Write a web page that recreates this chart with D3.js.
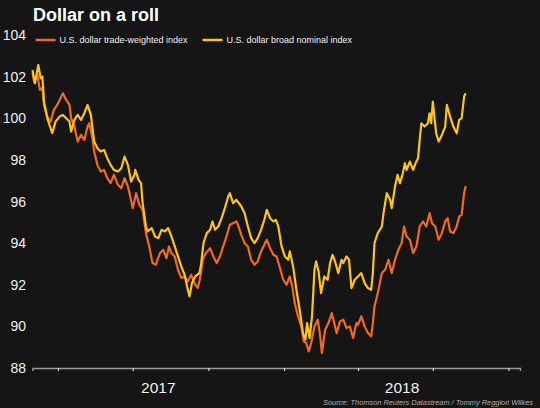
<!DOCTYPE html>
<html>
<head>
<meta charset="utf-8">
<script src="https://cdn.jsdelivr.net/npm/d3@7"></script>
<style>
  html, body { margin: 0; padding: 0; background: #151515; }
  svg { display: block; }
</style>
</head>
<body>
<div id="chart"></div>
<script>
// data
var seriesNames = ["U.S. dollar trade-weighted index", "U.S. dollar broad nominal index"];
var seriesColors = ["#f26a1b", "#fcc419"];
var yTicks = [88, 90, 92, 94, 96, 98, 100, 102, 104];
var yearLabels = ["2017", "2018"];
var sourceText = "Source: Thomson Reuters Datastream / Tommy Reggiori Wilkes";

var tradeWeighted = [
	["2017-03-01",102.18],["2017-03-03",101.76],["2017-03-07",102.08],["2017-03-10",101.36],["2017-03-13",101.46],
	["2017-03-15",100.64],["2017-03-19",100.08],["2017-03-23",99.84],["2017-03-27",100.40],["2017-03-31",100.64],
	["2017-04-04",100.96],["2017-04-07",101.20],["2017-04-11",100.88],["2017-04-15",100.64],["2017-04-17",100.00],
	["2017-04-21",99.60],["2017-04-25",98.88],["2017-04-29",99.20],["2017-05-03",98.96],["2017-05-07",99.60],
	["2017-05-09",99.76],["2017-05-13",99.04],["2017-05-15",98.40],["2017-05-19",97.76],["2017-05-23",97.44],
	["2017-05-27",97.52],["2017-05-31",97.12],["2017-06-04",96.88],["2017-06-08",97.28],["2017-06-13",96.80],
	["2017-06-17",96.64],["2017-06-21",97.12],["2017-06-25",96.72],["2017-06-27",96.40],["2017-07-01",95.68],
	["2017-07-05",96.40],["2017-07-09",95.84],["2017-07-13",95.60],["2017-07-17",94.48],["2017-07-21",93.84],
	["2017-07-25",93.04],["2017-07-29",92.96],["2017-08-03",93.52],["2017-08-07",93.68],["2017-08-11",93.28],
	["2017-08-14",93.84],["2017-08-17",93.52],["2017-08-21",93.36],["2017-08-25",92.72],["2017-08-29",92.32],
	["2017-09-02",92.40],["2017-09-06",92.16],["2017-09-10",92.48],["2017-09-14",92.08],["2017-09-18",91.84],
	["2017-09-21",92.32],["2017-09-24",93.20],["2017-09-28",93.52],["2017-10-03",93.76],["2017-10-07",93.36],
	["2017-10-11",93.04],["2017-10-15",93.36],["2017-10-19",93.84],["2017-10-23",94.32],["2017-10-27",94.88],
	["2017-10-31",94.96],["2017-11-04",95.04],["2017-11-06",94.88],["2017-11-10",94.40],["2017-11-14",94.00],
	["2017-11-18",93.84],["2017-11-22",93.20],["2017-11-26",92.96],["2017-11-30",93.12],["2017-12-04",93.60],
	["2017-12-08",93.92],["2017-12-11",94.16],["2017-12-15",93.76],["2017-12-19",93.44],["2017-12-23",93.36],
	["2017-12-27",92.80],["2017-12-31",92.24],["2018-01-04",92.00],["2018-01-08",92.40],["2018-01-11",91.92],
	["2018-01-14",91.12],["2018-01-18",90.48],["2018-01-22",90.00],["2018-01-25",89.28],["2018-01-28",89.20],
	["2018-01-31",88.80],["2018-02-03",89.20],["2018-02-07",90.00],["2018-02-11",90.32],["2018-02-14",89.52],
	["2018-02-16",88.72],["2018-02-20",89.84],["2018-02-24",90.16],["2018-02-28",90.64],["2018-03-03",90.16],
	["2018-03-06",89.68],["2018-03-10",90.24],["2018-03-14",90.32],["2018-03-18",89.92],["2018-03-22",90.00],
	["2018-03-26",89.44],["2018-03-30",90.16],["2018-04-01",90.08],["2018-04-05",90.48],["2018-04-09",90.00],
	["2018-04-13",89.68],["2018-04-17",89.52],["2018-04-19",90.16],["2018-04-21",90.96],["2018-04-25",91.60],
	["2018-04-30",92.56],["2018-05-04",92.72],["2018-05-08",93.20],["2018-05-12",92.56],["2018-05-16",93.20],
	["2018-05-20",93.68],["2018-05-24",94.00],["2018-05-27",94.80],["2018-05-30",94.32],["2018-06-03",94.16],
	["2018-06-07",93.52],["2018-06-11",93.84],["2018-06-15",94.80],["2018-06-19",95.04],["2018-06-23",94.80],
	["2018-06-27",95.44],["2018-06-30",94.96],["2018-07-04",94.80],["2018-07-08",94.16],["2018-07-12",94.48],
	["2018-07-16",95.04],["2018-07-19",95.20],["2018-07-22",94.56],["2018-07-26",94.48],["2018-07-30",94.80],
	["2018-08-02",95.28],["2018-08-05",95.36],["2018-08-08",96.40],["2018-08-10",96.75]
];

var broadNominal = [
	["2017-03-01",102.32],["2017-03-04",101.68],["2017-03-08",102.56],["2017-03-11",101.92],["2017-03-13",102.00],
	["2017-03-15",100.80],["2017-03-17",100.40],["2017-03-19",100.00],["2017-03-21",99.76],["2017-03-25",99.28],
	["2017-03-29",99.84],["2017-04-03",100.08],["2017-04-07",100.16],["2017-04-11",100.00],["2017-04-15",99.84],
	["2017-04-17",99.36],["2017-04-21",99.92],["2017-04-25",100.16],["2017-04-29",99.92],["2017-05-03",100.24],
	["2017-05-07",100.64],["2017-05-11",100.16],["2017-05-15",98.88],["2017-05-19",98.56],["2017-05-23",98.40],
	["2017-05-27",98.48],["2017-05-31",98.08],["2017-06-04",97.76],["2017-06-08",97.52],["2017-06-13",97.44],
	["2017-06-17",97.60],["2017-06-21",98.16],["2017-06-25",97.76],["2017-06-29",96.96],["2017-07-03",97.28],
	["2017-07-04",97.52],["2017-07-08",97.04],["2017-07-11",96.88],["2017-07-13",95.92],["2017-07-17",94.80],
	["2017-07-19",94.56],["2017-07-24",94.72],["2017-07-28",94.32],["2017-08-01",94.24],["2017-08-05",94.64],
	["2017-08-09",94.56],["2017-08-13",94.72],["2017-08-17",94.32],["2017-08-21",93.84],["2017-08-25",93.36],
	["2017-08-29",92.88],["2017-09-02",92.48],["2017-09-05",91.92],["2017-09-08",91.44],["2017-09-11",92.08],
	["2017-09-15",92.40],["2017-09-20",92.56],["2017-09-22",92.96],["2017-09-25",94.00],["2017-09-29",94.48],
	["2017-10-03",94.64],["2017-10-06",95.04],["2017-10-09",94.64],["2017-10-13",94.80],["2017-10-17",95.20],
	["2017-10-21",95.68],["2017-10-25",96.24],["2017-10-27",96.40],["2017-10-31",95.92],["2017-11-04",96.08],
	["2017-11-10",95.76],["2017-11-14",95.44],["2017-11-18",94.80],["2017-11-22",94.24],["2017-11-26",94.00],
	["2017-11-30",94.24],["2017-12-04",94.64],["2017-12-08",95.12],["2017-12-11",95.60],["2017-12-15",95.20],
	["2017-12-19",95.04],["2017-12-22",95.12],["2017-12-25",94.80],["2017-12-29",93.84],["2018-01-02",93.36],
	["2018-01-06",93.20],["2018-01-08",93.60],["2018-01-12",92.88],["2018-01-16",91.76],["2018-01-20",90.80],
	["2018-01-24",89.68],["2018-01-27",89.36],["2018-01-29",90.16],["2018-02-01",89.44],["2018-02-04",90.48],
	["2018-02-07",92.72],["2018-02-09",93.12],["2018-02-12",92.64],["2018-02-15",91.60],["2018-02-19",92.40],
	["2018-02-23",92.24],["2018-02-26",93.04],["2018-03-01",93.44],["2018-03-04",93.12],["2018-03-08",92.56],
	["2018-03-12",93.20],["2018-03-14",93.04],["2018-03-18",93.36],["2018-03-21",93.20],["2018-03-24",91.84],
	["2018-03-28",92.24],["2018-04-01",92.40],["2018-04-05",92.56],["2018-04-09",92.08],["2018-04-13",91.84],
	["2018-04-17",91.76],["2018-04-19",92.56],["2018-04-21",94.00],["2018-04-25",94.48],["2018-04-30",94.80],
	["2018-05-02",95.44],["2018-05-06",96.40],["2018-05-10",96.08],["2018-05-12",95.68],["2018-05-16",96.72],
	["2018-05-19",97.28],["2018-05-22",96.88],["2018-05-25",97.28],["2018-05-28",97.84],["2018-05-30",97.52],
	["2018-06-03",97.92],["2018-06-07",97.52],["2018-06-10",97.84],["2018-06-13",98.08],["2018-06-15",98.96],
	["2018-06-17",99.76],["2018-06-21",99.60],["2018-06-25",99.76],["2018-06-27",100.24],["2018-06-29",99.76],
	["2018-07-01",100.80],["2018-07-05",99.28],["2018-07-08",98.88],["2018-07-12",99.20],["2018-07-16",99.60],
	["2018-07-18",100.64],["2018-07-22",100.08],["2018-07-26",99.60],["2018-07-30",99.28],["2018-08-02",99.92],
	["2018-08-05",100.00],["2018-08-08",101.04],["2018-08-10",101.20]
];

var W = 540, H = 408;
var parse = d3.timeParse("%Y-%m-%d");
var series = [tradeWeighted, broadNominal].map(function(s){
	return s.map(function(d){ return {date: parse(d[0]), value: d[1]}; });
});

var svg = d3.select("#chart").append("svg").attr("width", W).attr("height", H);
svg.append("rect").attr("width", W).attr("height", H).attr("fill", "#151515");

var x = d3.scaleTime()
	.domain([parse("2017-03-01"), parse("2018-10-15")])
	.range([32.5, 520]);
var y = d3.scaleLinear().domain([88, 104]).range([368, 35]);

// y labels, no grid
svg.append("g").selectAll("text")
	.data(yTicks)
	.enter()
	.append("text")
	.attr("x", 26)
	.attr("y", function(d){ return y(d); })
	.attr("dy", "0.36em")
	.attr("text-anchor", "end")
	.attr("font-family", "Liberation Sans, Arial, sans-serif")
	.attr("font-size", 14)
	.attr("fill", "#f0f0f0")
	.text(function(d){ return d; });

// x axis: quarterly ticks, years written in the middle of their span
var xAxis = d3.axisBottom(x)
	.ticks(d3.timeMonth.every(3))
	.tickSize(3)
	.tickFormat("");
var gx = svg.append("g").attr("transform", "translate(0," + y(88) + ")").call(xAxis);
gx.select(".domain").attr("stroke", "#9a9a9a").attr("stroke-width", 1.5);
gx.selectAll(".tick line").attr("stroke", "#d8d8d8").attr("stroke-width", 1.2);

svg.append("g").selectAll("text")
	.data(yearLabels)
	.enter()
	.append("text")
	.attr("x", function(d){
		var a = Math.max(x(parse(d + "-01-01")), x.range()[0]);
		var b = Math.min(x(parse((+d + 1) + "-01-01")), x.range()[1]);
		return (a + b) / 2;
	})
	.attr("y", 393)
	.attr("text-anchor", "middle")
	.attr("font-family", "Liberation Sans, Arial, sans-serif")
	.attr("font-size", 15.5)
	.attr("fill", "#f0f0f0")
	.text(function(d){ return d; });

// lines
var line = d3.line()
	.x(function(d){ return x(d.date); })
	.y(function(d){ return y(d.value); });

svg.append("g").selectAll("path")
	.data(series)
	.enter()
	.append("path")
	.attr("d", line)
	.attr("fill", "none")
	.attr("stroke", function(d, i){ return seriesColors[i]; })
	.attr("stroke-width", 2.2)
	.attr("stroke-linejoin", "round");

// title
svg.append("text")
	.attr("x", 33)
	.attr("y", 21)
	.attr("font-family", "Liberation Sans, Arial, sans-serif")
	.attr("font-weight", "bold")
	.attr("font-size", 18)
	.attr("fill", "#ffffff")
	.text("Dollar on a roll");

// legend
var legendX = [35.5, 202.5];
var legend = svg.append("g").selectAll("g")
	.data(seriesNames)
	.enter()
	.append("g")
	.attr("transform", function(d, i){ return "translate(" + legendX[i] + ",40)"; });
legend.append("line")
	.attr("x1", 0).attr("x2", 20)
	.attr("stroke", function(d, i){ return seriesColors[i]; })
	.attr("stroke-width", 2.5);
legend.append("text")
	.attr("x", 24)
	.attr("dy", "0.35em")
	.attr("font-family", "Liberation Sans, Arial, sans-serif")
	.attr("font-size", 9)
	.attr("fill", "#f0f0f0")
	.text(function(d){ return d; });

// source
svg.append("text")
	.attr("x", 533)
	.attr("y", 405)
	.attr("text-anchor", "end")
	.attr("font-family", "Liberation Sans, Arial, sans-serif")
	.attr("font-style", "italic")
	.attr("font-size", 7.4)
	.attr("fill", "#b0b0b0")
	.text(sourceText);
</script>
</body>
</html>
